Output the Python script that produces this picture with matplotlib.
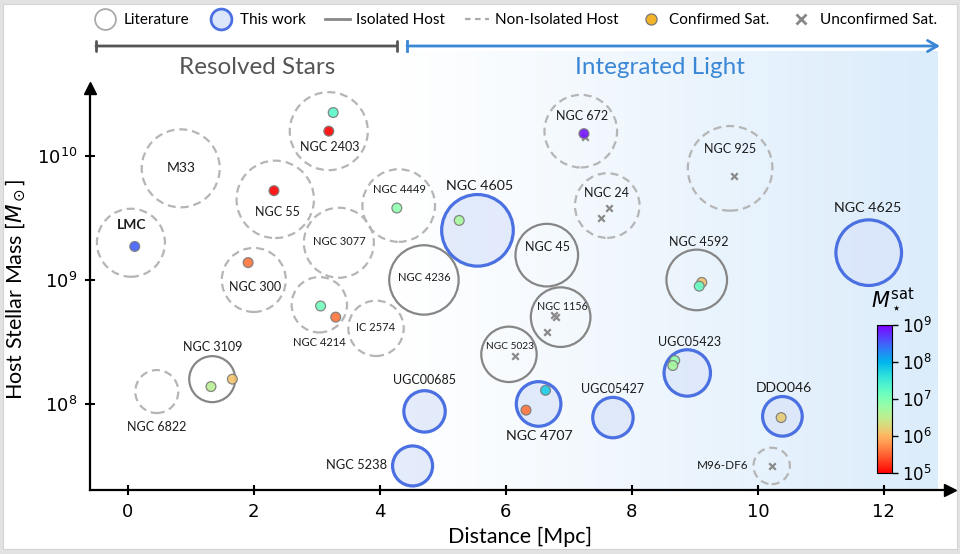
import numpy as np
import matplotlib
matplotlib.use("Agg")
import matplotlib.pyplot as plt
from matplotlib.colors import LogNorm, to_rgb
from matplotlib.lines import Line2D
from matplotlib.patches import Rectangle
from matplotlib.ticker import NullLocator, FixedLocator

# ---------------- data ----------------
host_names = ["LMC", "M33", "NGC 2403", "NGC 55", "NGC 4449", "NGC 3077", "NGC 300",
              "NGC 4214", "IC 2574", "NGC 3109", "NGC 6822", "NGC 5238", "UGC00685",
              "NGC 4236", "NGC 4605", "NGC 45", "NGC 672", "NGC 24", "NGC 1156",
              "NGC 5023", "NGC 4707", "UGC05427", "UGC05423", "DDO046", "M96-DF6",
              "NGC 4592", "NGC 925", "NGC 4625"]
host_dist = [0.05, 0.84, 3.19, 2.34, 4.30, 3.35, 2.00, 3.04, 3.94, 1.34, 0.46, 4.52, 4.71,
             4.70, 5.55, 6.65, 7.19, 7.61, 6.87, 6.05, 6.52, 7.70, 8.88, 10.39, 10.22,
             9.03, 9.56, 11.76]
host_logmass = [9.30, 9.90, 10.20, 9.65, 9.60, 9.30, 9.00, 8.80, 8.61, 8.20, 8.10, 7.50, 7.94,
                9.00, 9.40, 9.20, 10.20, 9.60, 8.70, 8.40, 8.00, 7.89, 8.25, 7.90, 7.50,
                9.00, 9.90, 9.22]
host_ring = [34, 39, 39, 38.7, 36.3, 35, 32, 27.7, 27.7, 23, 21.5, 20, 20.7, 34.7, 35.8,
             31.3, 36.3, 32.3, 29.8, 27.7, 22.3, 20.2, 23.2, 19.8, 18.2, 30.3, 42.3, 32.8]
host_kind = ["non", "non", "non", "non", "non", "non", "non", "non", "non", "iso", "non",
             "new", "new", "iso", "new", "iso", "non", "non", "iso", "iso", "new", "new",
             "new", "new", "non", "iso", "non", "new"]

sat_dist = [0.11, 3.26, 3.19, 2.32, 4.27, 1.91, 3.06, 3.30, 1.32, 1.66, 5.26, 7.24, 6.63,
            6.32, 8.68, 8.65, 10.37, 9.11, 9.07]
sat_hostmass = [9.27, 10.35, 10.20, 9.72, 9.58, 9.14, 8.79, 8.70, 8.14, 8.20, 9.48, 10.18,
                8.11, 7.95, 8.35, 8.31, 7.89, 8.98, 8.95]
sat_logmstar = [8.5, 7.3, 5.0, 5.0, 6.9, 5.6, 7.1, 5.6, 6.55, 6.1, 6.7, 8.9, 7.8, 5.6,
                6.9, 6.7, 6.2, 6.1, 7.2]

unc_dist = [7.25, 7.64, 7.51, 6.77, 6.80, 6.66, 6.15, 9.62, 10.23]
unc_hostmass = [10.15, 9.58, 9.50, 8.715, 8.705, 8.58, 8.39, 9.84, 7.50]

x_ticks = [0, 2, 4, 6, 8, 10, 12]
y_ticks = [1e8, 1e9, 1e10]
cbar_ticks = [1e5, 1e6, 1e7, 1e8, 1e9]

# ---------------- label layout (offsets in px, font size, ha) ----------------
label_layout = {
    "LMC": (1, 18, 10, "center"), "M33": (0, 0, 10, "center"),
    "NGC 2403": (1, -15.5, 9, "center"), "NGC 55": (2, -12.5, 9, "center"),
    "NGC 4449": (1, 16, 8, "center"), "NGC 3077": (1, 1, 8, "center"),
    "NGC 300": (1, -7, 9, "center"), "NGC 4214": (0.5, -37.5, 8, "center"),
    "IC 2574": (0, 1, 8, "center"), "NGC 3109": (0.4, 32, 9, "center"),
    "NGC 6822": (0, -35, 9, "center"), "NGC 5238": (-25.8, 0.7, 9.3, "right"),
    "UGC00685": (0, 31.7, 9, "center"), "NGC 4236": (0.7, 2, 8, "center"),
    "NGC 4605": (2, 44.5, 10.3, "center"), "NGC 45": (1, 8.3, 9, "center"),
    "NGC 672": (1, 15, 9, "center"), "NGC 24": (-1, 13, 9, "center"),
    "NGC 1156": (2, 10.3, 7.7, "center"), "NGC 5023": (0.7, 8.3, 7.3, "center"),
    "NGC 4707": (1, -32, 10.2, "center"), "UGC05427": (-0.7, 29, 9, "center"),
    "UGC05423": (2, 31, 9, "center"), "DDO046": (1, 28.6, 10, "center"),
    "M96-DF6": (-22.7, 0, 8.5, "right"), "NGC 4592": (1.6, 38, 9, "center"),
    "NGC 925": (0, 19.4, 9, "center"), "NGC 4625": (-1, 45, 10.3, "center"),
}

FONT = ["Lato", "DejaVu Sans"]
plt.rcParams["font.family"] = FONT
plt.rcParams["mathtext.fontset"] = "dejavusans"

W, H = 960, 554
fig = plt.figure(figsize=(W / 100, H / 100), dpi=100, facecolor="#e2e2e2")
fig.patches.append(Rectangle((3 / W, 5 / H), 954 / W, 545 / H, transform=fig.transFigure,
                             facecolor="white", edgecolor="#d4d4d4", lw=0.8, zorder=-10))

# gradient background
bg = fig.add_axes([400 / W, (H - 490) / H, (938 - 400) / W, (490 - 51) / H], zorder=0)
c0 = np.array(to_rgb("#ffffff"))
c1 = np.array(to_rgb("#dbecfb"))
t = np.linspace(0, 1, 256)[None, :, None]
grad = c0 + (c1 - c0) * t
grad = np.repeat(grad, 2, axis=0)
bg.imshow(grad, aspect="auto", extent=[0, 1, 0, 1])
bg.axis("off")

ax = fig.add_axes([90 / W, (H - 490) / H, 860 / W, 402 / H], zorder=1)
ax.set_facecolor("none")
ax.set_yscale("log")
ax.set_xlim(-0.6, 13.05)
ax.set_ylim(10 ** 7.306, 10 ** 10.548)

PX2PT = 0.72
dist = np.array(host_dist)
mass = 10 ** np.array(host_logmass)
ring = np.array(host_ring)
kind = np.array(host_kind)

sizes = (2 * ring * PX2PT) ** 2
m = kind == "non"
ax.scatter(dist[m], mass[m], s=sizes[m], facecolors="none", edgecolors="#b5b5b5",
           linewidths=1.6, linestyles=(0, (3.6, 2.2)), zorder=2)
m = kind == "iso"
ax.scatter(dist[m], mass[m], s=sizes[m], facecolors="none", edgecolors="#868686",
           linewidths=1.6, zorder=2)
m = kind == "new"
ax.scatter(dist[m], mass[m], s=sizes[m], facecolors=(0.85, 0.895, 0.98, 0.7),
           edgecolors="#4a70e2", linewidths=2.3, zorder=2)

norm = LogNorm(1e5, 1e9)
cmap = plt.get_cmap("rainbow_r")
sc = ax.scatter(sat_dist, 10 ** np.array(sat_hostmass), c=10 ** np.array(sat_logmstar),
                cmap=cmap, norm=norm, s=50, edgecolors="#7a7a7a", linewidths=0.9,
                alpha=0.9, zorder=4)
ax.scatter(unc_dist, 10 ** np.array(unc_hostmass), marker="x", s=22, c="#8a8a8a",
           linewidths=1.6, zorder=3)

for name, d, lm in zip(host_names, host_dist, host_logmass):
    dx, dy, fs, ha = label_layout[name]
    ax.annotate(name, (d, 10 ** lm), xytext=(dx * PX2PT, dy * PX2PT),
                textcoords="offset points", ha=ha, va="center", fontsize=fs,
                color="#1c1c1c", fontweight="bold" if name == "LMC" else "normal",
                zorder=5)

# axes styling
for s in ["top", "right"]:
    ax.spines[s].set_visible(False)
for s in ["left", "bottom"]:
    ax.spines[s].set_linewidth(1.6)
    ax.spines[s].set_color("black")
ax.plot(1, 0, ">", color="black", ms=8, transform=ax.transAxes, clip_on=False)
ax.plot(0, 1, "^", color="black", ms=8, transform=ax.transAxes, clip_on=False)
ax.set_xticks(x_ticks)
ax.yaxis.set_major_locator(FixedLocator(y_ticks))
ax.yaxis.set_minor_locator(NullLocator())
ax.tick_params(direction="inout", length=7, width=1.5, labelsize=13, pad=6)
for lab in ax.get_xticklabels() + ax.get_yticklabels():
    lab.set_fontfamily("DejaVu Sans")
ax.set_xlabel("Distance [Mpc]", fontsize=15.5, labelpad=4)
ax.set_ylabel(r"Host Stellar Mass [$M_\odot$]", fontsize=15.5, labelpad=6)

# colorbar
cax = fig.add_axes([877 / W, (H - 473.3) / H, 15 / W, 148.3 / H], zorder=3)
cb = fig.colorbar(sc, cax=cax)
cb.solids.set_alpha(1)
cb.set_ticks(cbar_ticks)
cax.yaxis.set_minor_locator(NullLocator())
cb.outline.set_linewidth(0.8)
cax.tick_params(labelsize=12, length=4, width=1)
for lab in cax.get_yticklabels():
    lab.set_fontfamily("DejaVu Sans")
fig.text(893 / W, (H - 300) / H, r"$M_\star^{\rm sat}$", fontsize=15, ha="center",
         va="center")

# legend
handles = [
    Line2D([], [], ls="none", marker="o", ms=15, mfc="white", mec="#aaaaaa", mew=1.3),
    Line2D([], [], ls="none", marker="o", ms=15, mfc="#dce6fa", mec="#4a70e2", mew=2),
    Line2D([], [], ls="-", color="#888888", lw=2),
    Line2D([], [], ls=(0, (2.5, 2)), color="#aaaaaa", lw=1.6),
    Line2D([], [], ls="none", marker="o", ms=8, mfc="#f2b328", mec="#777777", mew=0.9),
    Line2D([], [], ls="none", marker="x", ms=7, mec="#888888", mew=2),
]
labels = ["Literature", "This work", "Isolated Host", "Non-Isolated Host",
          "Confirmed Sat.", "Unconfirmed Sat."]
fig.legend(handles, labels, loc="center", bbox_to_anchor=(515 / W, (H - 20) / H),
           ncol=6, frameon=False, fontsize=11, handlelength=1.6, handletextpad=0.4,
           columnspacing=1.3)

# regime brackets
ax.annotate("", xy=(397, H - 46), xytext=(96, H - 46), xycoords="figure pixels",
            textcoords="figure pixels",
            arrowprops=dict(arrowstyle="|-|,widthA=0.35,widthB=0.35", color="#555555",
                            lw=2, shrinkA=0, shrinkB=0))
ax.annotate("", xy=(940, H - 46), xytext=(407, H - 46), xycoords="figure pixels",
            textcoords="figure pixels",
            arrowprops=dict(arrowstyle="->,head_length=0.7,head_width=0.4", color="#3a87d6",
                            lw=2, shrinkA=0, shrinkB=0))
fig.add_artist(Line2D([407 / W, 407 / W], [(H - 41) / H, (H - 51) / H], color="#3a87d6",
                      lw=2, transform=fig.transFigure))
fig.text(257 / W, (H - 68) / H, "Resolved Stars", fontsize=17.5, color="#555555",
         ha="center", va="center")
fig.text(660 / W, (H - 68) / H, "Integrated Light", fontsize=17.5, color="#3a87d6",
         ha="center", va="center")

fig.savefig("out.png", dpi=100, facecolor=fig.get_facecolor())
